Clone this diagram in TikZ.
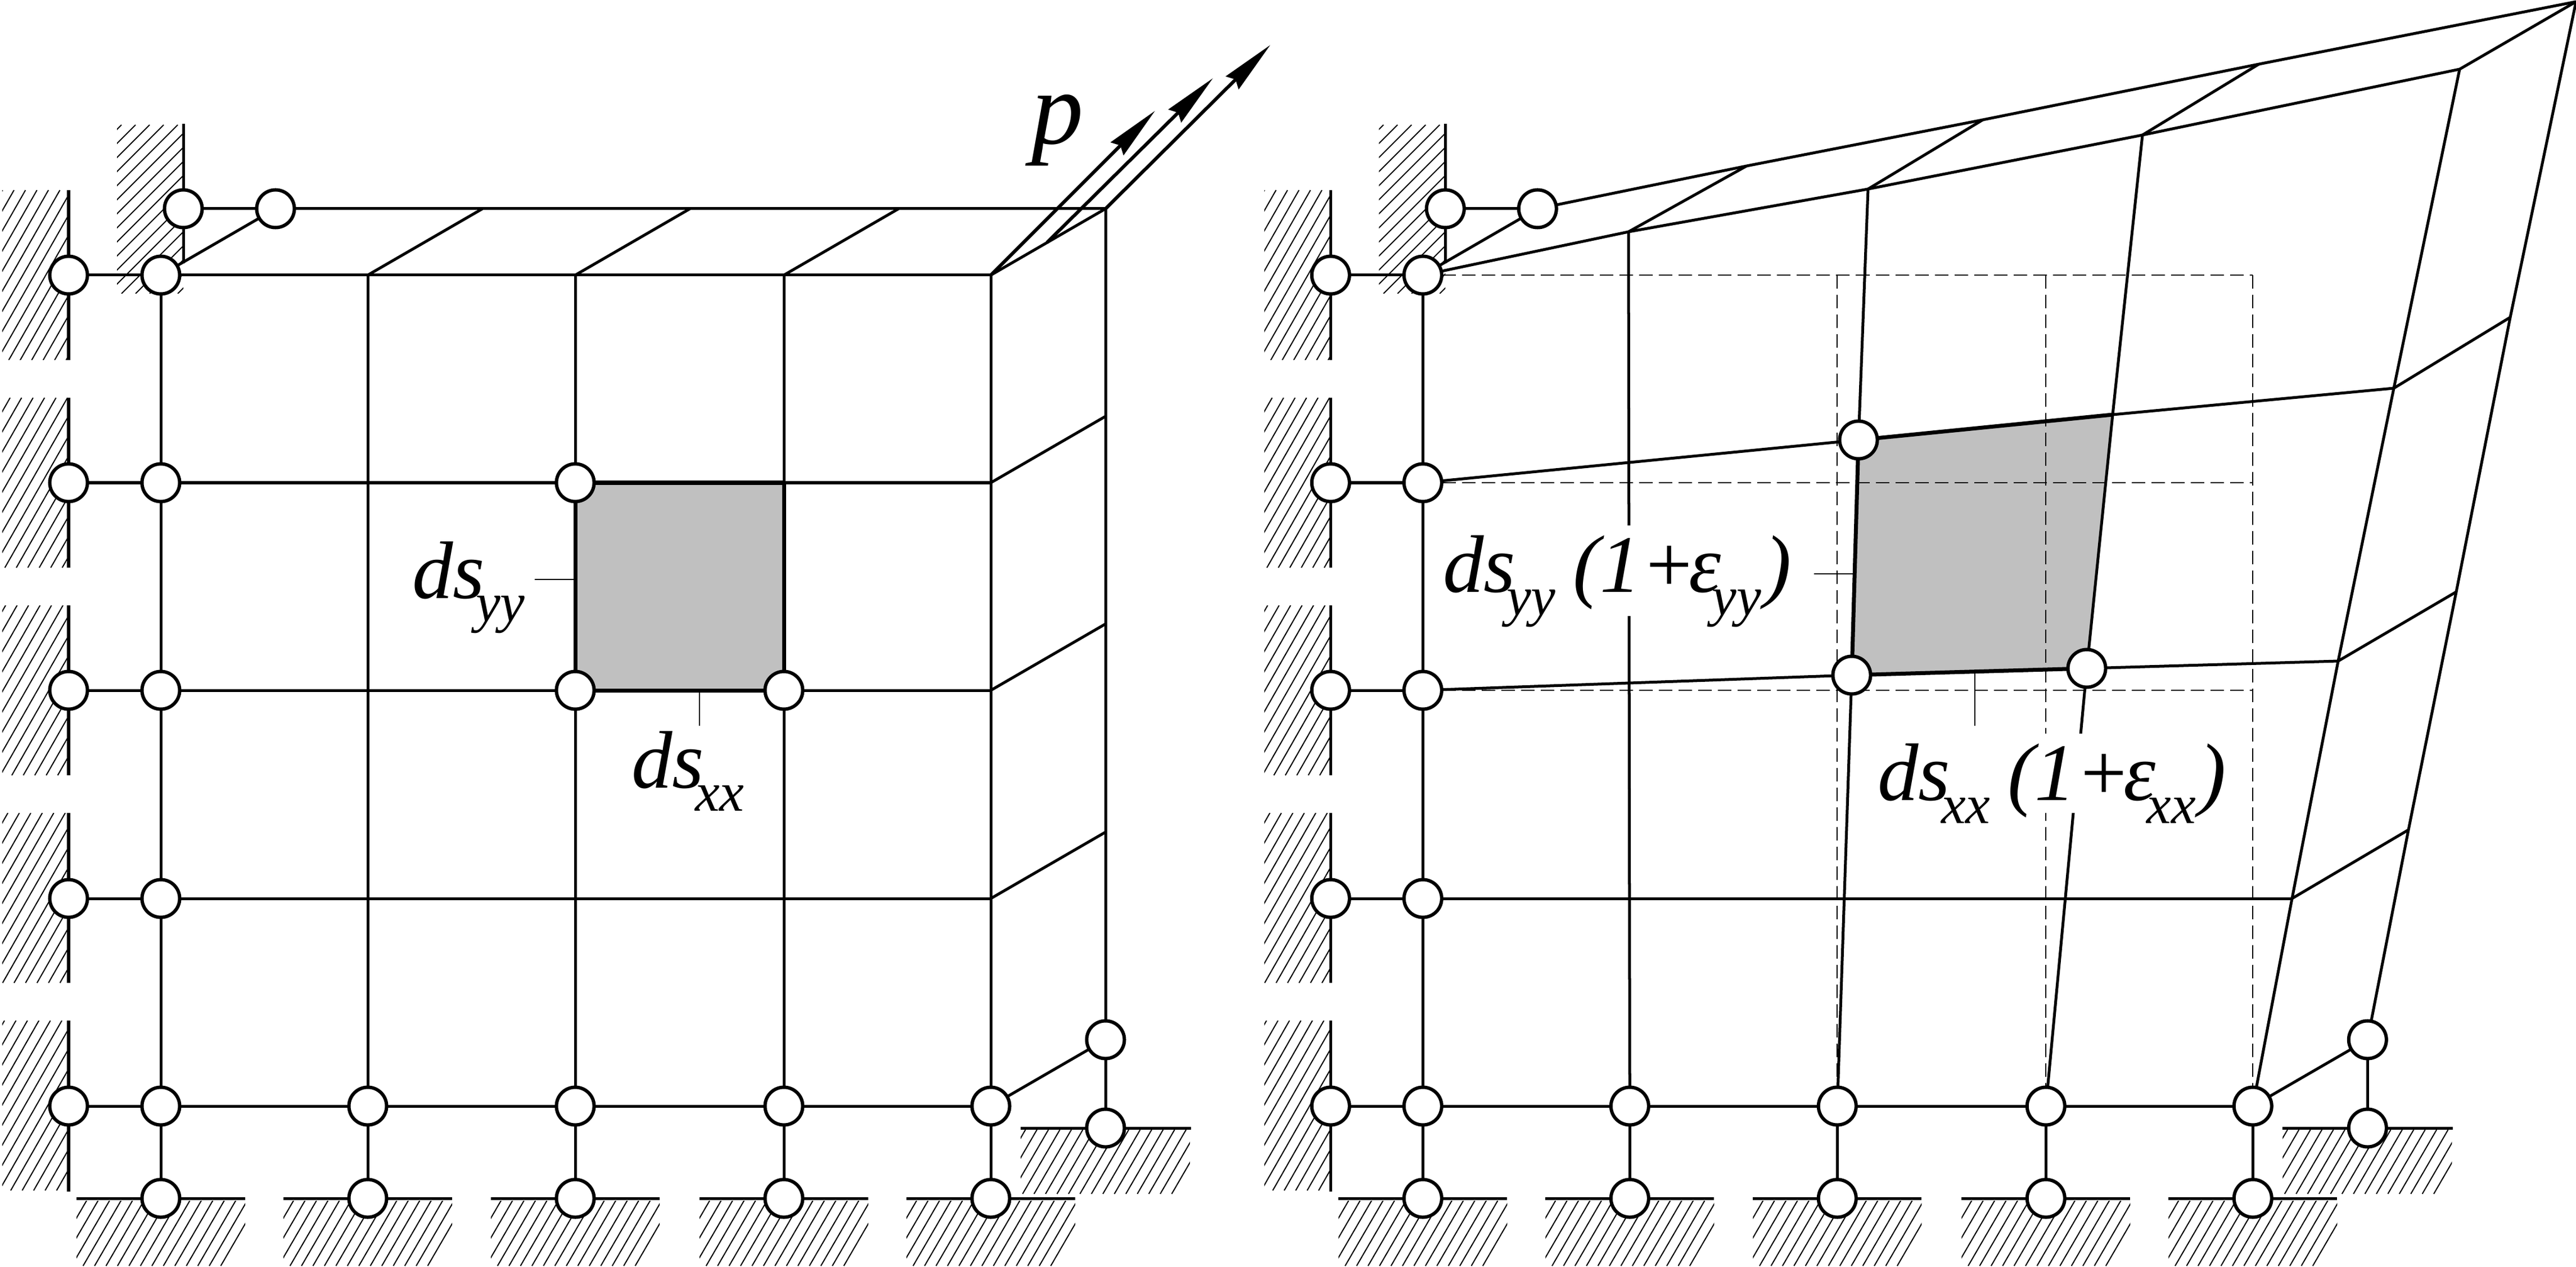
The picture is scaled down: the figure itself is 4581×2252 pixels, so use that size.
\documentclass[tikz,border=0pt]{standalone}
\usepackage{fontspec}
\setmainfont{Liberation Serif}
\usetikzlibrary{arrows.meta}
\definecolor{cellgray}{HTML}{C0C0C0}
\tikzset{
  joint/.style={circle,draw=black,fill=white,line width=0.06cm,minimum size=0.67cm,inner sep=0pt,outer sep=0pt},
  beam/.style={line width=0.05cm,draw=black},
  heavy/.style={line width=0.07cm,draw=black},
  thinline/.style={line width=0.02cm,draw=black},
  hatchline/.style={line width=0.02cm,draw=black},
  ghost/.style={line width=0.024cm,draw=black,dash pattern=on 0.24cm off 0.11cm},
  force/.style={line width=0.06cm,draw=black,-{Stealth[length=0.95cm,width=0.32cm,inset=0.08cm]}},
  lbl/.style={anchor=base west,inner sep=0pt,outer sep=0pt,font=\itshape\fontsize{41.25pt}{45pt}\selectfont}
}
\newcommand{\subtxt}[1]{\hspace{-4.5pt}\raisebox{-11.8pt}{\fontsize{28pt}{30pt}\selectfont #1}}
% x1 y1 x2 y2 phase spacing slope
\newcommand{\hatchbox}[7]{%
  \begin{scope}
    \clip (#1,#2) rectangle (#3,#4);
    \foreach \k in {-15,...,40}{%
      \pgfmathsetmacro\xa{#5-\k*#6}%
      \pgfmathsetmacro\xb{\xa-(#4-#2)/#7}%
      \draw[hatchline] (\xa,#2) -- (\xb,#4);
    }
  \end{scope}}
% supports, walls and joints shared by both panels
\newcommand{\supports}[1]{%
  \hatchbox{4}{338}{122}{640}{106.5}{20.4}{1.75}
  \hatchbox{4}{707}{122}{1009}{120}{20.4}{1.75}
  \hatchbox{4}{1076}{122}{1378}{112}{20.4}{1.75}
  \hatchbox{4}{1445}{122}{1747}{116}{20.4}{1.75}
  \hatchbox{4}{1814}{122}{2116}{110}{20.4}{1.75}
  \hatchbox{208}{222}{326}{522}{316}{25}{1}
  \hatchbox{1815}{2008}{2116}{2122}{1844}{20.4}{1.72}
  \foreach \x in {286,654,1023,1394,1762}{%
    \pgfmathsetmacro\xl{\x-150}\pgfmathsetmacro\xr{\x+150}\pgfmathsetmacro\xp{\x-132}%
    \hatchbox{\xl}{2134}{\xr}{2250}{\xp}{20.4}{1.72}
    \coordinate (#1sl\x) at (\xl,2130);
    \coordinate (#1sr\x) at (\xr,2130);
    \draw[beam] (#1sl\x) -- (#1sr\x);
  }
  \coordinate (#1gl) at (1815,2005);
  \coordinate (#1gr) at (2118,2005);
  \draw[beam] (#1gl) -- (#1gr);
  \foreach \i/\a/\b in {1/338/640,2/707/1009,3/1076/1378,4/1445/1747,5/1814/2118}{%
    \coordinate (#1wt\i) at (122,\a);
    \coordinate (#1wb\i) at (122,\b);
    \draw[beam] (#1wt\i) -- (#1wb\i);
  }
  \coordinate (#1ut) at (326,220);
  \coordinate (#1ub) at (326,468);
  \foreach \i/\y in {1/489,2/858,3/1227,4/1597,5/1966}{%
    \node[joint] (#1w\i) at (122,\y) {};
    \node[joint] (#1c\i) at (286,\y) {};
  }
  \foreach \i/\x in {2/654,3/1023,4/1394,5/1762}{\node[joint] (#1b\i) at (\x,1966) {};}
  \foreach \i/\x in {1/286,2/654,3/1023,4/1394,5/1762}{\node[joint] (#1s\i) at (\x,2130) {};}
  \node[joint] (#1a) at (326,371) {};
  \node[joint] (#1e) at (490,371) {};
  \node[joint] (#1m) at (1966,1848) {};
  \node[joint] (#1n) at (1966,2005) {};
  \draw[beam] (#1ut) -- (#1a);
  \draw[beam] (#1a) -- (#1ub);
  \draw[beam] (#1a) -- (#1e);
  \draw[beam] (#1c1) -- (#1e);
  \foreach \i in {1,...,5}{\draw[beam] (#1w\i) -- (#1c\i);}
  \draw[beam] (#1c1) -- (#1c2);
  \draw[beam] (#1c2) -- (#1c3);
  \draw[beam] (#1c3) -- (#1c4);
  \draw[beam] (#1c4) -- (#1c5);
  \draw[beam] (#1c5) -- (#1s1);
  \draw[beam] (#1c5) -- (#1b2);
  \draw[beam] (#1b2) -- (#1b3);
  \draw[beam] (#1b3) -- (#1b4);
  \draw[beam] (#1b4) -- (#1b5);
  \foreach \i in {2,3,4,5}{\draw[beam] (#1b\i) -- (#1s\i);}
  \draw[beam] (#1b5) -- (#1m);
  \draw[beam] (#1m) -- (#1n);
}
\begin{document}
\begin{tikzpicture}[x=0.01cm,y=-0.01cm]
\useasboundingbox (0,0) rectangle (4581,2252);
% ---------- left panel ----------
\fill[cellgray] (1023,858) rectangle (1394,1227);
\supports{L}
\node[joint] (q1) at (1023,858) {};
\node[joint] (q2) at (1023,1227) {};
\node[joint] (q3) at (1394,1227) {};
\coordinate (f1) at (654,489);
\coordinate (f2) at (1023,489);
\coordinate (f3) at (1394,489);
\coordinate (f4) at (1762,489);
\coordinate (f5) at (1762,858);
\coordinate (f6) at (1762,1227);
\coordinate (f7) at (1762,1597);
\coordinate (f8) at (1394,858);
\coordinate (k1) at (858,371);
\coordinate (k2) at (1227,371);
\coordinate (k3) at (1598,371);
\coordinate (k4) at (1966,371);
\coordinate (k5) at (1966,740);
\coordinate (k6) at (1966,1109);
\coordinate (k7) at (1966,1479);
\draw[beam] (Lc1) -- (f4);
\draw[beam] (Lc2) -- (q1);
\draw[heavy] (q1) -- (f8);
\draw[beam] (f8) -- (f5);
\draw[beam] (Lc3) -- (q2);
\draw[heavy] (q2) -- (q3);
\draw[beam] (q3) -- (f6);
\draw[beam] (Lc4) -- (f7);
\draw[beam] (f1) -- (Lb2);
\draw[beam] (f2) -- (q1);
\draw[heavy] (q1) -- (q2);
\draw[beam] (q2) -- (Lb3);
\draw[beam] (f3) -- (f8);
\draw[heavy] (f8) -- (q3);
\draw[beam] (q3) -- (Lb4);
\draw[beam] (f4) -- (Lb5);
\draw[beam] (Le) -- (k4);
\draw[beam] (k4) -- (Lm);
\draw[beam] (f1) -- (k1);
\draw[beam] (f2) -- (k2);
\draw[beam] (f3) -- (k3);
\draw[beam] (f4) -- (k4);
\draw[beam] (f5) -- (k5);
\draw[beam] (f6) -- (k6);
\draw[beam] (f7) -- (k7);
% forces
\coordinate (pm) at (1862,431);
\coordinate (p1) at (2054,197);
\coordinate (p2) at (2157,139);
\coordinate (p3) at (2259,80);
\draw[force] (f4) -- (p1);
\draw[force] (pm) -- (p2);
\draw[force] (k4) -- (p3);
\node[lbl,font=\itshape\fontsize{52.6pt}{55pt}\selectfont] (plabel) at (1834,256) {p};
% dimension labels
\coordinate (t1a) at (951,1030);
\coordinate (t1b) at (1023,1030);
\coordinate (t2a) at (1244,1228);
\coordinate (t2b) at (1244,1290);
\draw[thinline] (t1a) -- (t1b);
\draw[thinline] (t2a) -- (t2b);
\node[lbl] (dsyy) at (733,1063) {ds\subtxt{yy}};
\node[lbl] (dsxx) at (1123,1400) {ds\subtxt{xx}};
% ---------- right panel ----------
\coordinate (quadA) at (3305,782);
\coordinate (quadB) at (3757,737);
\coordinate (quadC) at (3711,1188);
\coordinate (quadD) at (3293,1200);
\fill[cellgray] (quadA) -- (quadB) -- (quadC) -- (quadD) -- cycle;
% undeformed outline
\coordinate (g1) at (2530,489);
\coordinate (g2) at (4006,489);
\coordinate (g3) at (2530,858);
\coordinate (g4) at (4006,858);
\coordinate (g5) at (2530,1227);
\coordinate (g6) at (4006,1227);
\coordinate (g7) at (3267,489);
\coordinate (g8) at (3267,1966);
\coordinate (g9) at (3638,489);
\coordinate (g10) at (3638,1966);
\coordinate (g11) at (4006,1966);
\draw[ghost] (g1) -- (g2);
\draw[ghost] (g3) -- (g4);
\draw[ghost] (g5) -- (g6);
\draw[ghost] (g7) -- (g8);
\draw[ghost] (g9) -- (g10);
\draw[ghost] (g2) -- (g11);
\begin{scope}[xshift=22.43cm]
\supports{R}
\end{scope}
\node[joint] (r1) at (3305,782) {};
\node[joint] (r2) at (3293,1200) {};
\node[joint] (r3) at (3711,1188) {};
% deformed front face
\coordinate (d1) at (2896,412);
\coordinate (d2) at (3322,336);
\coordinate (d3) at (3810,240);
\coordinate (d4) at (4374,123);
\coordinate (d5) at (4257,690);
\coordinate (d6) at (4158,1175);
\coordinate (d7) at (4076,1597);
% deformed back face
\coordinate (h1) at (3106,295);
\coordinate (h2) at (3526,213);
\coordinate (h3) at (4017,114);
\coordinate (h4) at (4581,3);
\coordinate (h5) at (4464,564);
\coordinate (h6) at (4368,1052);
\coordinate (h7) at (4283,1475);
\draw[beam] (Rc1) -- (d1) -- (d2) -- (d3) -- (d4);
\draw[beam] (Re) -- (h1) -- (h2) -- (h3) -- (h4);
\draw[beam] (d1) -- (h1);
\draw[beam] (d2) -- (h2);
\draw[beam] (d3) -- (h3);
\draw[beam] (d4) -- (h4);
\draw[beam] (d5) -- (h5);
\draw[beam] (d6) -- (h6);
\draw[beam] (d7) -- (h7);
\draw[beam] (h4) -- (h5) -- (h6) -- (h7) -- (Rm);
\draw[beam] (d4) -- (d5) -- (d6) -- (d7) -- (Rb5);
\draw[beam] (Rc2) -- (r1);
\draw[heavy] (r1) -- (quadB);
\draw[beam] (quadB) -- (d5);
\draw[beam] (Rc3) -- (r2);
\draw[heavy] (r2) -- (r3);
\draw[beam] (r3) -- (d6);
\draw[beam] (Rc4) -- (d7);
\draw[beam] (d1) -- (Rb2);
\draw[beam] (d2) -- (r1);
\draw[heavy] (r1) -- (r2);
\draw[beam] (r2) -- (Rb3);
\draw[beam] (d3) -- (quadB);
\draw[beam] (quadB) -- (r3);
\draw[beam] (r3) -- (Rb4);
% white ground behind the two long labels
\fill[white] (2560,934) rectangle (3200,1095);
\fill[white] (3330,1304) rectangle (3975,1445);
\coordinate (t3a) at (3226,1020);
\coordinate (t3b) at (3297,1020);
\coordinate (t4a) at (3512,1195);
\coordinate (t4b) at (3512,1290);
\draw[thinline] (t3a) -- (t3b);
\draw[thinline] (t4a) -- (t4b);
\node[lbl] (dsyyE) at (2566,1052) {ds\subtxt{yy}\hspace{8.8pt}(1+\hspace{-3.6pt}ε\subtxt{yy}\hspace{1.5pt})};
\node[lbl] (dsxxE) at (3339,1422) {ds\subtxt{xx}\hspace{8.8pt}(1+\hspace{-3.6pt}ε\subtxt{xx}\hspace{1.5pt})};
\end{tikzpicture}
\end{document}
